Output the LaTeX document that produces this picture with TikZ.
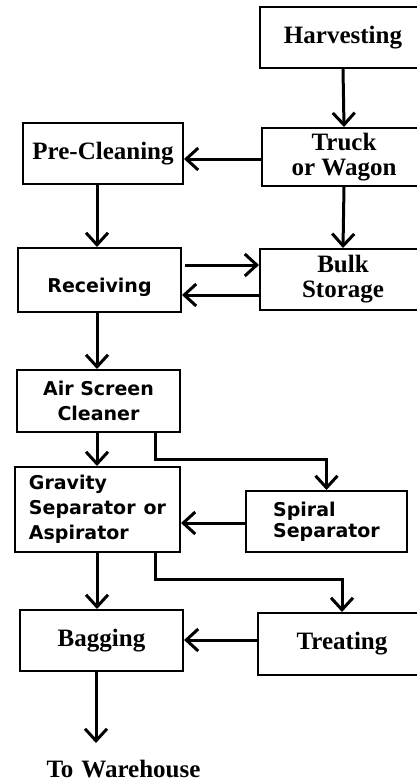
\documentclass[tikz,border=0pt]{standalone}
\usepackage{fontspec}
\setmainfont{Liberation Serif}
\newfontfamily\sfbold{DejaVu Sans Bold}
\usetikzlibrary{arrows.meta,calc}
\tikzset{
  box/.style={draw, line width=2pt, inner sep=0pt},
  serif/.style={font=\fontsize{25}{25}\selectfont\bfseries, align=center},
  sans/.style={font=\fontsize{19}{25}\selectfont\sfbold, align=center},
  arr/.style={line width=3pt, -{Straight Barb[length=12pt,width=22pt]}},
}
\begin{document}
\begin{tikzpicture}[x=1pt,y=-1pt]
\useasboundingbox (0,0) rectangle (417,782);
\clip (0,0) rectangle (417,782);
% boxes
\node[box,serif,minimum width=166pt,minimum height=61pt] (harv) at (343,37.5) {Harvesting};
\node[box,serif,minimum width=164pt,minimum height=58pt] (truck) at (344,157) {Truck\\or Wagon};
\node[box,serif,minimum width=160pt,minimum height=61pt] (pre) at (103,153.5) {Pre-Cleaning};
\node[box,sans,minimum width=163pt,minimum height=64pt,text height=24pt,text depth=0pt] (recv) at (99.5,280) {Receiving};
\node[box,serif,minimum width=166pt,minimum height=61pt] (bulk) at (343,279.5) {Bulk\\Storage};
\node[box,sans,minimum width=163pt,minimum height=62pt] (air) at (98.5,401) {Air Screen\\Cleaner};
\node[box,sans,align=left,minimum width=165pt,minimum height=85pt] (grav) at (97.5,509.5) {Gravity\\Separator\hspace{8pt}or\\Aspirator};
\node[box,sans,align=left,font=\fontsize{19}{21}\selectfont\sfbold,minimum width=161pt,minimum height=61pt] (spiral) at (326.5,521.5) {Spiral\\Separator};
\node[box,serif,minimum width=163pt,minimum height=61pt] (bag) at (101.5,640.5) {Bagging};
\node[box,serif,minimum width=168pt,minimum height=62pt] (treat) at (342,644) {Treating};
\node[serif,inner sep=0pt] (wh) at (123.5,769.5) {To\hspace{8pt}Warehouse};
% column coordinates
\coordinate (colL) at (97,0);
\coordinate (whArrow) at (96,743);
% connectors
\draw[arr] (harv.south) -- (truck.north);
\draw[arr] ([yshift=-2pt]truck.west) -- ([yshift=-2pt]truck.west -| pre.east);
\draw[arr] (pre.south -| colL) -- (recv.north -| colL);
\draw[arr] (truck.south) -- (bulk.north);
\draw[arr] ([xshift=3pt,yshift=15pt]recv.east) -- ([yshift=15pt]recv.east -| bulk.west);
\draw[arr] ([yshift=-15.5pt]bulk.west) -- ([yshift=-15.5pt]bulk.west -| recv.east);
\draw[arr] (recv.south -| colL) -- (air.north -| colL);
\draw[arr] (air.south -| colL) -- (grav.north -| colL);
\draw[arr] ([xshift=56.5pt]air.south) -- ++(0,26) -| (spiral.north);
\draw[arr] ([yshift=-1.5pt]spiral.west) -- ([yshift=-1.5pt]spiral.west -| grav.east);
\draw[arr] (grav.south -| colL) -- (bag.north -| colL);
\draw[arr] ([xshift=57.5pt]grav.south) -- ++(0,26) -| (treat.north);
\draw[arr] ([yshift=4pt]treat.west) -- ([yshift=4pt]treat.west -| bag.east);
\draw[arr] (bag.south -| whArrow) -- (whArrow);
\end{tikzpicture}
\end{document}
